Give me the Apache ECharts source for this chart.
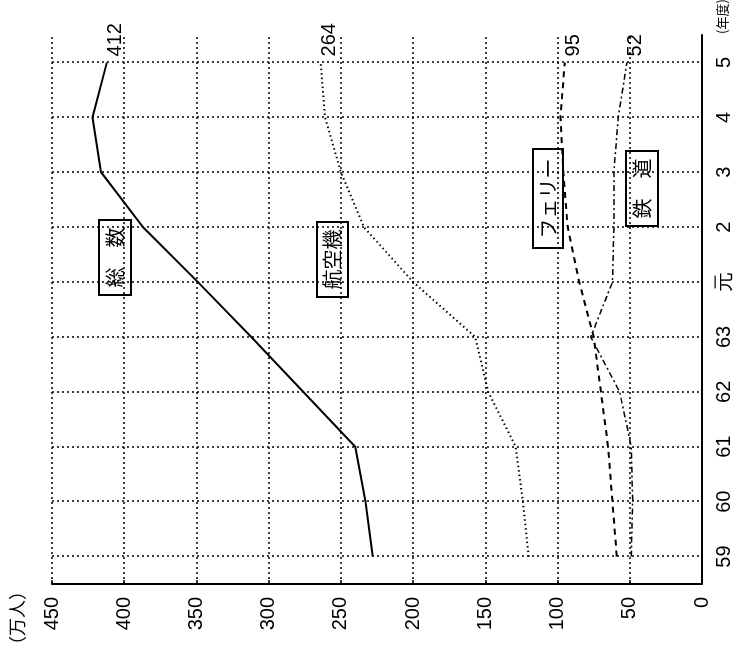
<!DOCTYPE html>
<html><head><meta charset="utf-8">
<script src="https://cdn.jsdelivr.net/npm/echarts@6/dist/echarts.min.js"></script>
<style>
html,body{margin:0;padding:0;background:#fff;overflow:hidden;width:746px;height:658px;}
#wrap{position:absolute;left:0;top:0;width:658px;height:746px;transform-origin:0 0;transform:translate(0,658px) rotate(-90deg);}
#chart{width:658px;height:746px;}
</style></head><body>
<div id="wrap"><div id="chart"></div></div>
<script>
// 年度
const years = ['59', '60', '61', '62', '63', '元', '2', '3', '4', '5'];
// 万人
const totalValues  = [228, 233, 240, 276, 312, 349, 387, 416, 422, 412];
const airValues    = [120, 124, 129, 148, 157, 200, 234, 250, 261, 264];
const ferryValues  = [59, 62, 65, 70, 75, 85, 93, 96, 98, 95];
const railValues   = [49, 48, 49, 57, 77, 62, 61, 61, 58, 52];
const valueTicks = { min: 0, max: 450, interval: 50 };
const seriesNames = ['総　数', '航空機', 'フェリー', '鉄　道'];

const numFont = '"Liberation Sans", "DejaVu Sans", sans-serif';
const jpFont = '"Noto Sans CJK JP", sans-serif';

function endLabel() {
  return { show: true, formatter: p => String(p.value), offset: [2, 9], distance: 4,
           fontFamily: numFont, fontSize: 20, color: '#000' };
}

function box(x, y, w, h, text) {
  return {
    type: 'group', x: x, y: y, z: 100,
    children: [
      { type: 'rect', shape: { x: 0, y: 0, width: w, height: h }, style: { fill: '#fff', stroke: '#000', lineWidth: 2 } },
      { type: 'text', x: w / 2, y: h / 2, style: { text: text, font: '20px ' + jpFont, fill: '#000', align: 'center', verticalAlign: 'middle' } }
    ]
  };
}

const chart = echarts.init(document.getElementById('chart'), null, { renderer: 'canvas' });
const dotted = { type: [2, 3], color: '#000', width: 1.5 };
chart.setOption({
  animation: false,
  backgroundColor: '#fff',
  grid: { left: 74, right: 35, top: 52, bottom: 44 },
  xAxis: {
    type: 'category', data: years, boundaryGap: true,
    axisLine: { show: true, onZero: false, lineStyle: { color: '#000', width: 2 } },
    axisTick: { show: false },
    axisLabel: { color: '#000', fontFamily: numFont, fontSize: 20, margin: 12, interval: 0 },
    splitLine: { show: true, alignWithLabel: true, interval: 0, lineStyle: dotted }
  },
  yAxis: {
    type: 'value', min: valueTicks.min, max: valueTicks.max, interval: valueTicks.interval,
    axisLine: { show: true, lineStyle: { color: '#000', width: 2 } },
    axisTick: { show: true, inside: true, length: 4, lineStyle: { color: '#000', width: 1.5 } },
    axisLabel: { color: '#000', fontFamily: numFont, fontSize: 20, margin: 13 },
    splitLine: { show: true, lineStyle: dotted }
  },
  series: [
    { name: seriesNames[0], type: 'line', data: totalValues, symbol: 'none', endLabel: endLabel(), lineStyle: { color: '#000', width: 2 } },
    { name: seriesNames[1], type: 'line', data: airValues, symbol: 'none', endLabel: endLabel(), lineStyle: { color: '#000', width: 2, type: [1.5, 3] } },
    { name: seriesNames[2], type: 'line', data: ferryValues, symbol: 'none', endLabel: endLabel(), lineStyle: { color: '#000', width: 2, type: [6, 5] } },
    { name: seriesNames[3], type: 'line', data: railValues, symbol: 'none', endLabel: endLabel(), lineStyle: { color: '#000', width: 1.5, type: [6, 3, 2, 3] } }
  ],
  graphic: [
    box(363, 99, 75, 32, seriesNames[0]),
    box(361, 317, 75, 31, seriesNames[1]),
    box(410, 533, 99, 30, seriesNames[2]),
    box(432, 626, 75, 32, seriesNames[3]),
    { type: 'text', x: 4, y: 8, style: { text: '（万人）', font: '18px ' + jpFont, fill: '#000' } },
    { type: 'text', x: 624, y: 716, style: { text: '(年度)', font: '13px ' + jpFont, fill: '#000' } }
  ]
});
</script>
</body></html>
